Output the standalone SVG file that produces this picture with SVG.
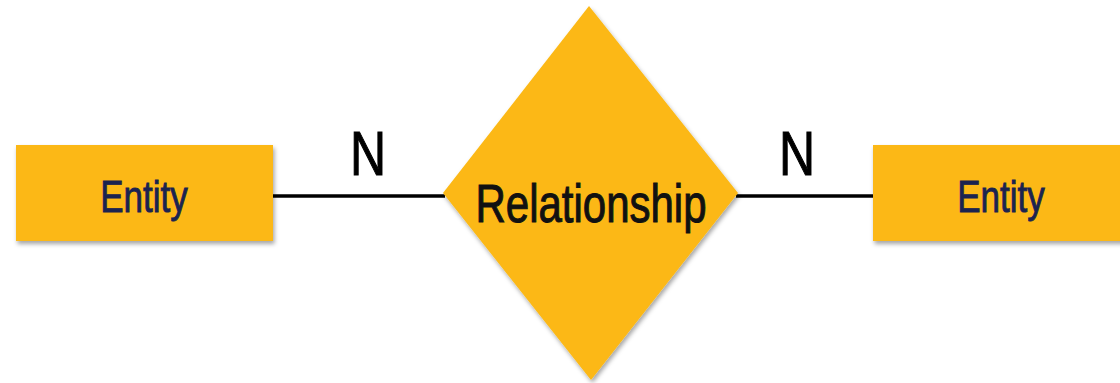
<svg xmlns="http://www.w3.org/2000/svg" width="1120" height="383" viewBox="0 0 1120 383">
  <style>
    .shape { fill: #fcb813; filter: url(#shadow); }
    .conn { stroke: #000; stroke-width: 3.5; fill: none; }
    .ent { font-family: "Liberation Sans", Arial, sans-serif; font-size: 35px; fill: #1b2350; stroke: #1b2350; stroke-width: 0.7; text-anchor: middle; }
    .rel { font-family: "Liberation Sans", Arial, sans-serif; font-size: 42px; fill: #111; stroke: #111; stroke-width: 0.8; text-anchor: middle; }
    .card { font-family: "Liberation Sans", Arial, sans-serif; font-size: 50px; fill: #000; stroke: #000; stroke-width: 0.8; text-anchor: middle; }
  </style>
  <defs>
    <filter id="shadow" x="-10%" y="-10%" width="130%" height="130%">
      <feDropShadow dx="1.5" dy="3" stdDeviation="2" flood-color="#000" flood-opacity="0.35"/>
    </filter>
  </defs>
  <rect width="1120" height="383" fill="#fff"/>

  <g id="connectors">
    <line class="conn" x1="272" y1="196" x2="445" y2="196"/>
    <line class="conn" x1="736" y1="196" x2="874" y2="196"/>
    <text class="card" transform="translate(368,175) scale(1,1.25)">N</text>
    <text class="card" transform="translate(797,175) scale(1,1.25)">N</text>
  </g>

  <g id="entity-left">
    <rect class="shape" x="16" y="145" width="257" height="96"/>
    <text class="ent" transform="translate(144,212) scale(1,1.25)">Entity</text>
  </g>

  <g id="relationship">
    <polygon class="shape" points="589,6 738,193 591,380 443,193"/>
    <text class="rel" transform="translate(591,222) scale(1,1.28)">Relationship</text>
  </g>

  <g id="entity-right">
    <rect class="shape" x="873" y="145" width="257" height="96"/>
    <text class="ent" transform="translate(1001,212) scale(1,1.25)">Entity</text>
  </g>
</svg>
